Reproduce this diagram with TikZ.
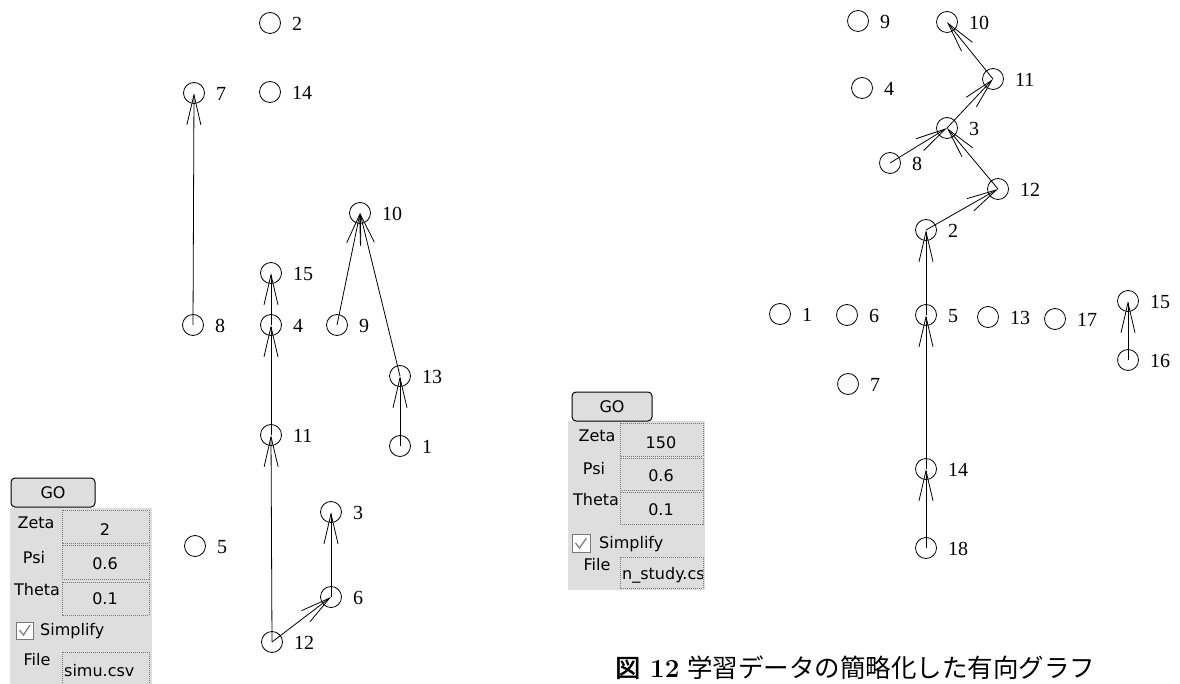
\documentclass[tikz,border=0pt]{standalone}
\usepackage{fontspec}
\newfontfamily\lblfont{Liberation Serif}
\newfontfamily\uifont{DejaVu Sans}
\newfontfamily\cjkfont{Noto Sans CJK JP}
\newfontfamily\cjkboldfont{Noto Sans CJK JP}[FakeBold=2]
\usetikzlibrary{arrows.meta}
\definecolor{panelgray}{RGB}{222,222,222}
\definecolor{boxborder}{RGB}{120,120,120}
\newcommand\myvtx[4]{\node[vertex] (#1) at (#2,#3) {}; \node[lbl] (#1l) at ([xshift=22pt,yshift=-1pt]#1.center) {#4};}
\begin{document}
\begin{tikzpicture}[x=1pt,y=-1pt,
  vertex/.style={circle,draw,line width=0.8pt,minimum size=21pt,inner sep=0pt},
  lbl/.style={anchor=west,inner sep=0pt,font=\lblfont\fontsize{20}{20}\selectfont},
  edge/.style={line width=0.8pt,-{Straight Barb[length=30pt,width=14pt,line width=0.8pt]}},
  panel/.style={fill=panelgray,draw=none},
  gobtn/.style={draw,fill=panelgray,rounded corners=4pt,line width=1pt},
  valbox/.style={draw=boxborder,densely dotted,line width=1pt,fill=panelgray},
  ui/.style={inner sep=0pt,font=\uifont\fontsize{16}{16}\selectfont},
  chk/.style={draw=boxborder,fill=white,line width=0.8pt}]
\useasboundingbox (0,0) rectangle (1180,684);

% ---------- left graph ----------
\myvtx{L2}{270}{23}{2}
\myvtx{L14}{270}{92}{14}
\myvtx{L7}{194}{93}{7}
\myvtx{L10}{360}{213}{10}
\myvtx{L15}{271}{273}{15}
\myvtx{L8}{193}{325}{8}
\myvtx{L4}{271}{325}{4}
\myvtx{L9}{337}{325}{9}
\myvtx{L13}{400}{376}{13}
\myvtx{L11}{271}{435}{11}
\myvtx{L1}{400}{446}{1}
\myvtx{L3}{331}{512}{3}
\myvtx{L5}{195}{546}{5}
\myvtx{L6}{331}{597}{6}
\myvtx{L12}{272}{642}{12}

\draw[edge] (L8.center) -- (L7.center);
\draw[edge] (L4.center) -- (L15.center);
\draw[edge] (L11.center) -- (L4.center);
\draw[edge] (L12.center) -- (L11.center);
\draw[edge] (L12.center) -- (L6.center);
\draw[edge] (L6.center) -- (L3.center);
\draw[edge] (L9.center) -- (L10.center);
\draw[edge] (L13.center) -- (L10.center);
\draw[edge] (L1.center) -- (L13.center);

% ---------- right graph ----------
\myvtx{R9}{858}{21}{9}
\myvtx{R10}{947}{22}{10}
\myvtx{R4}{862}{88}{4}
\myvtx{R11}{993}{79}{11}
\myvtx{R3}{947}{128}{3}
\myvtx{R8}{890}{163}{8}
\myvtx{R12}{998}{189}{12}
\myvtx{R2}{926}{230}{2}
\myvtx{R1}{780}{314}{1}
\myvtx{R6}{847}{315}{6}
\myvtx{R5}{926}{315}{5}
\myvtx{R13}{988}{317}{13}
\myvtx{R17}{1055}{319}{17}
\myvtx{R15}{1128}{301}{15}
\myvtx{R16}{1128}{360}{16}
\myvtx{R7}{848}{384}{7}
\myvtx{R14}{926}{469}{14}
\myvtx{R18}{926}{548}{18}

\draw[edge] (R18.center) -- (R14.center);
\draw[edge] (R14.center) -- (R5.center);
\draw[edge] (R5.center) -- (R2.center);
\draw[edge] (R2.center) -- (R12.center);
\draw[edge] (R12.center) -- (R3.center);
\draw[edge] (R8.center) -- (R3.center);
\draw[edge] (R3.center) -- (R11.center);
\draw[edge] (R11.center) -- (R10.center);
\draw[edge] (R16.center) -- (R15.center);

% ---------- left panel ----------
\fill[panel] (10,508) rectangle (152,684);
\draw[gobtn] (11,478) rectangle (95,507);
\node[ui] (LgoT) at (53,493) {GO};
\draw[valbox] (62,510) rectangle (149,543);
\draw[valbox] (62,545) rectangle (149,579);
\draw[valbox] (62,582) rectangle (149,615);
\draw[valbox] (62,652) rectangle (149,684);
\node[ui] (Lzeta) at (36,523) {Zeta};
\node[ui] (Lpsi) at (34,558) {Psi};
\node[ui] (Ltheta) at (37,590) {Theta};
\node[ui] (Lzv) at (105,530) {2};
\node[ui] (Lpv) at (105,564) {0.6};
\node[ui] (Ltv) at (105,599) {0.1};
\draw[chk] (16,622) rectangle (33,639);
\draw[gray,line width=1.3pt] (19.5,630) -- (23.5,635) -- (30,625);
\node[ui,anchor=west] (Lsimp) at (40,631) {Simplify};
\node[ui] (Lfile) at (37,660) {File};
\node[ui,anchor=west] (Lfv) at (64,671) {simu.csv};

% ---------- right panel ----------
\fill[panel] (568,421) rectangle (705,590);
\draw[gobtn] (572,392) rectangle (652,421);
\node[ui] (RgoT) at (612,407) {GO};
\draw[valbox] (620,423) rectangle (703,456);
\draw[valbox] (620,458) rectangle (703,490);
\draw[valbox] (620,492) rectangle (703,524);
\draw[valbox] (620,557) rectangle (703,588);
\node[ui] (Rzeta) at (597,436) {Zeta};
\node[ui] (Rpsi) at (594,469) {Psi};
\node[ui] (Rtheta) at (596,500) {Theta};
\node[ui] (Rzv) at (661,443) {150};
\node[ui] (Rpv) at (661,476) {0.6};
\node[ui] (Rtv) at (661,510) {0.1};
\draw[chk] (572,534) rectangle (590,552);
\draw[gray,line width=1.3pt] (575.5,543) -- (579.5,548) -- (586.5,538);
\node[ui,anchor=west] (Rsimp) at (599,544) {Simplify};
\node[ui] (Rfile) at (597,565) {File};
\begin{scope}
\clip (621,558) rectangle (702,587);
\node[ui,anchor=west] (Rfv) at (622,575) {n\_study.csv};
\end{scope}

% ---------- caption ----------
\node[anchor=base west,inner sep=0pt] (cap) at (615,677)
  {{\cjkboldfont\fontsize{25}{25}\selectfont 図}\hspace{10pt}{\bfseries\fontsize{26}{26}\selectfont 12}\hspace{8pt}{\cjkfont\fontsize{25.5}{25.5}\selectfont 学習データの簡略化した有向グラフ}};
\end{tikzpicture}
\end{document}
